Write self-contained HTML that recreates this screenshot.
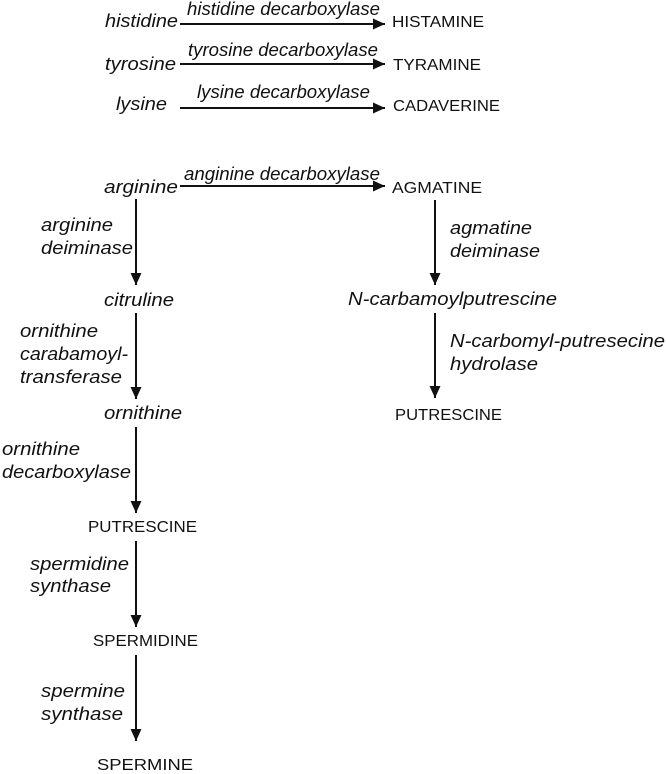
<!DOCTYPE html>
<html><head><style>
body{margin:0;background:#fff}
svg{display:block}
.i{font-family:"Liberation Sans",sans-serif;font-style:italic;font-size:18px;fill:#111}
.c{font-family:"Liberation Sans",sans-serif;font-size:15.5px;fill:#111}
</style></head><body>
<svg width="666" height="774" viewBox="0 0 666 774">
<defs><marker id="a" viewBox="0 0 12 12" refX="12" refY="6" markerWidth="12" markerHeight="12" markerUnits="userSpaceOnUse" orient="auto"><path d="M0,0.5L12,6L0,11.5z" fill="#111"/></marker></defs>
<g stroke="#111" stroke-width="2" marker-end="url(#a)">
<line x1="180" y1="24" x2="385" y2="24"/>
<line x1="180" y1="64" x2="385" y2="64"/>
<line x1="180" y1="108" x2="385" y2="108"/>
<line x1="180" y1="186" x2="385" y2="186"/>
<line x1="136" y1="199" x2="136" y2="285"/>
<line x1="136" y1="313" x2="136" y2="399"/>
<line x1="136" y1="427" x2="136" y2="513"/>
<line x1="136" y1="541" x2="136" y2="627"/>
<line x1="136" y1="655" x2="136" y2="741"/>
<line x1="435" y1="200" x2="435" y2="285"/>
<line x1="435" y1="313" x2="435" y2="398"/>
</g>
<g lengthAdjust="spacingAndGlyphs">
<text class="i" x="105" y="27" textLength="73" lengthAdjust="spacingAndGlyphs">histidine</text>
<text class="i" x="187" y="15" textLength="193" lengthAdjust="spacingAndGlyphs">histidine decarboxylase</text>
<text class="c" x="392" y="27" textLength="92" lengthAdjust="spacingAndGlyphs">HISTAMINE</text>
<text class="i" x="105" y="70" textLength="71" lengthAdjust="spacingAndGlyphs">tyrosine</text>
<text class="i" x="188" y="56" textLength="190" lengthAdjust="spacingAndGlyphs">tyrosine decarboxylase</text>
<text class="c" x="393" y="70" textLength="88" lengthAdjust="spacingAndGlyphs">TYRAMINE</text>
<text class="i" x="116" y="110" textLength="51" lengthAdjust="spacingAndGlyphs">lysine</text>
<text class="i" x="197" y="98" textLength="173" lengthAdjust="spacingAndGlyphs">lysine decarboxylase</text>
<text class="c" x="393" y="111" textLength="107" lengthAdjust="spacingAndGlyphs">CADAVERINE</text>
<text class="i" x="104" y="193" textLength="74" lengthAdjust="spacingAndGlyphs">arginine</text>
<text class="i" x="184" y="180" textLength="196" lengthAdjust="spacingAndGlyphs">anginine decarboxylase</text>
<text class="c" x="392" y="193" textLength="90" lengthAdjust="spacingAndGlyphs">AGMATINE</text>
<text class="i" x="41" y="231" textLength="72" lengthAdjust="spacingAndGlyphs">arginine</text>
<text class="i" x="41" y="254" textLength="92" lengthAdjust="spacingAndGlyphs">deiminase</text>
<text class="i" x="104" y="306" textLength="70" lengthAdjust="spacingAndGlyphs">citruline</text>
<text class="i" x="20" y="337" textLength="78" lengthAdjust="spacingAndGlyphs">ornithine</text>
<text class="i" x="20" y="360" textLength="108" lengthAdjust="spacingAndGlyphs">carabamoyl-</text>
<text class="i" x="20" y="383" textLength="102" lengthAdjust="spacingAndGlyphs">transferase</text>
<text class="i" x="104" y="419" textLength="78" lengthAdjust="spacingAndGlyphs">ornithine</text>
<text class="i" x="2" y="455" textLength="78" lengthAdjust="spacingAndGlyphs">ornithine</text>
<text class="i" x="2" y="478" textLength="129" lengthAdjust="spacingAndGlyphs">decarboxylase</text>
<text class="c" x="88" y="532" textLength="109" lengthAdjust="spacingAndGlyphs">PUTRESCINE</text>
<text class="i" x="30" y="570" textLength="99" lengthAdjust="spacingAndGlyphs">spermidine</text>
<text class="i" x="30" y="592" textLength="81" lengthAdjust="spacingAndGlyphs">synthase</text>
<text class="c" x="93" y="646" textLength="105" lengthAdjust="spacingAndGlyphs">SPERMIDINE</text>
<text class="i" x="41" y="697" textLength="84" lengthAdjust="spacingAndGlyphs">spermine</text>
<text class="i" x="41" y="720" textLength="82" lengthAdjust="spacingAndGlyphs">synthase</text>
<text class="c" x="97" y="770" textLength="96" lengthAdjust="spacingAndGlyphs">SPERMINE</text>
<text class="i" x="450" y="234" textLength="82" lengthAdjust="spacingAndGlyphs">agmatine</text>
<text class="i" x="450" y="257" textLength="90" lengthAdjust="spacingAndGlyphs">deiminase</text>
<text class="i" x="348" y="305" textLength="209" lengthAdjust="spacingAndGlyphs">N-carbamoylputrescine</text>
<text class="i" x="450" y="347" textLength="215" lengthAdjust="spacingAndGlyphs">N-carbomyl-putresecine</text>
<text class="i" x="450" y="370" textLength="88" lengthAdjust="spacingAndGlyphs">hydrolase</text>
<text class="c" x="395" y="420" textLength="107" lengthAdjust="spacingAndGlyphs">PUTRESCINE</text>
</g>
</svg>
</body></html>
